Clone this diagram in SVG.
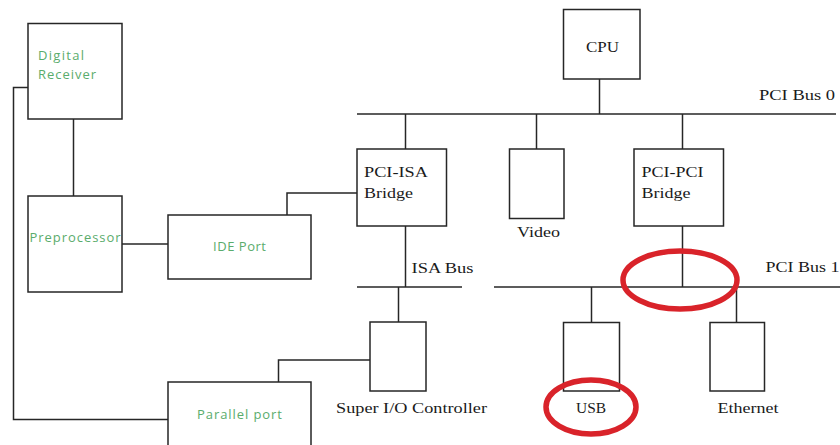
<svg xmlns="http://www.w3.org/2000/svg" width="840" height="445" viewBox="0 0 840 445">
<style>
.box{fill:#fff;stroke:#262626;stroke-width:1.5}
.ln{fill:none;stroke:#262626;stroke-width:1.5}
.t{font-family:"Liberation Serif",serif;font-size:15px;fill:#1a1a1a}
.g{font-family:"Open Sans","Liberation Sans",sans-serif;font-size:13px;fill:#5aac6c}
.hl{fill:none;stroke:#d9232a;stroke-width:5.5}
</style>
<rect width="840" height="445" fill="#fff"/>
<g id="connectors">
<path class="ln" d="M73.5 119V196"/>
<path class="ln" d="M122 244H168"/>
<path class="ln" d="M287 215V193H357"/>
<path class="ln" d="M28 87.5H13.5V419.5H168"/>
<path class="ln" d="M278.5 382V360H370"/>
<path class="ln" d="M599.5 79V114"/>
<path class="ln" d="M357 114H836"/>
<path class="ln" d="M405.5 114V149"/>
<path class="ln" d="M536.5 114V149"/>
<path class="ln" d="M682.5 114V149"/>
<path class="ln" d="M405.5 226V287"/>
<path class="ln" d="M357 287H462"/>
<path class="ln" d="M398.5 287V322"/>
<path class="ln" d="M494 287H840"/>
<path class="ln" d="M682.5 226V287"/>
<path class="ln" d="M591.5 287V322"/>
<path class="ln" d="M736.5 287V322"/>
</g>
<g id="digital-receiver"><rect class="box" x="28" y="23.5" width="94" height="95.5"/><text class="g" x="38" y="60" textLength="46">Digital</text><text class="g" x="38" y="79" textLength="58">Receiver</text></g>
<g id="preprocessor"><rect class="box" x="28" y="196" width="94" height="96"/><text class="g" x="29.5" y="242" textLength="91">Preprocessor</text></g>
<g id="ide-port"><rect class="box" x="168" y="215" width="143" height="64"/><text class="g" x="213" y="251" textLength="53">IDE Port</text></g>
<g id="parallel-port"><rect class="box" x="168" y="382" width="143" height="70"/><text class="g" x="197" y="419" textLength="85">Parallel port</text></g>
<g id="cpu"><rect class="box" x="563.5" y="9.5" width="76.5" height="69.5"/><text class="t" x="586" y="52" textLength="33" lengthAdjust="spacingAndGlyphs">CPU</text></g>
<g id="pci-bus-0"><text class="t" x="759" y="100" textLength="76" lengthAdjust="spacingAndGlyphs">PCI Bus 0</text></g>
<g id="pci-isa-bridge"><rect class="box" x="357" y="149" width="89.5" height="77"/><text class="t" x="364" y="177" textLength="64" lengthAdjust="spacingAndGlyphs">PCI-ISA</text><text class="t" x="364" y="198" textLength="49" lengthAdjust="spacingAndGlyphs">Bridge</text></g>
<g id="video"><rect class="box" x="509.5" y="149" width="54.5" height="69.5"/><text class="t" x="517" y="237" textLength="43" lengthAdjust="spacingAndGlyphs">Video</text></g>
<g id="pci-pci-bridge"><rect class="box" x="634" y="149" width="89.5" height="77"/><text class="t" x="641.5" y="177" textLength="62" lengthAdjust="spacingAndGlyphs">PCI-PCI</text><text class="t" x="641.5" y="198" textLength="49" lengthAdjust="spacingAndGlyphs">Bridge</text></g>
<g id="isa-bus"><text class="t" x="411.5" y="273" textLength="62" lengthAdjust="spacingAndGlyphs">ISA Bus</text></g>
<g id="pci-bus-1"><text class="t" x="765.5" y="272" textLength="74" lengthAdjust="spacingAndGlyphs">PCI Bus 1</text></g>
<g id="super-io"><rect class="box" x="370" y="322" width="56" height="69"/><text class="t" x="336" y="412.5" textLength="151" lengthAdjust="spacingAndGlyphs">Super I/O Controller</text></g>
<g id="usb"><rect class="box" x="563.5" y="322.5" width="56" height="68.5"/><text class="t" x="576" y="413" textLength="30" lengthAdjust="spacingAndGlyphs">USB</text></g>
<g id="ethernet"><rect class="box" x="710" y="322.5" width="54.5" height="68.5"/><text class="t" x="717.5" y="413" textLength="61" lengthAdjust="spacingAndGlyphs">Ethernet</text></g>
<g id="highlights">
<ellipse class="hl" cx="680" cy="280" rx="57" ry="29"/>
<ellipse class="hl" cx="591" cy="407" rx="45" ry="27"/>
</g>
</svg>
